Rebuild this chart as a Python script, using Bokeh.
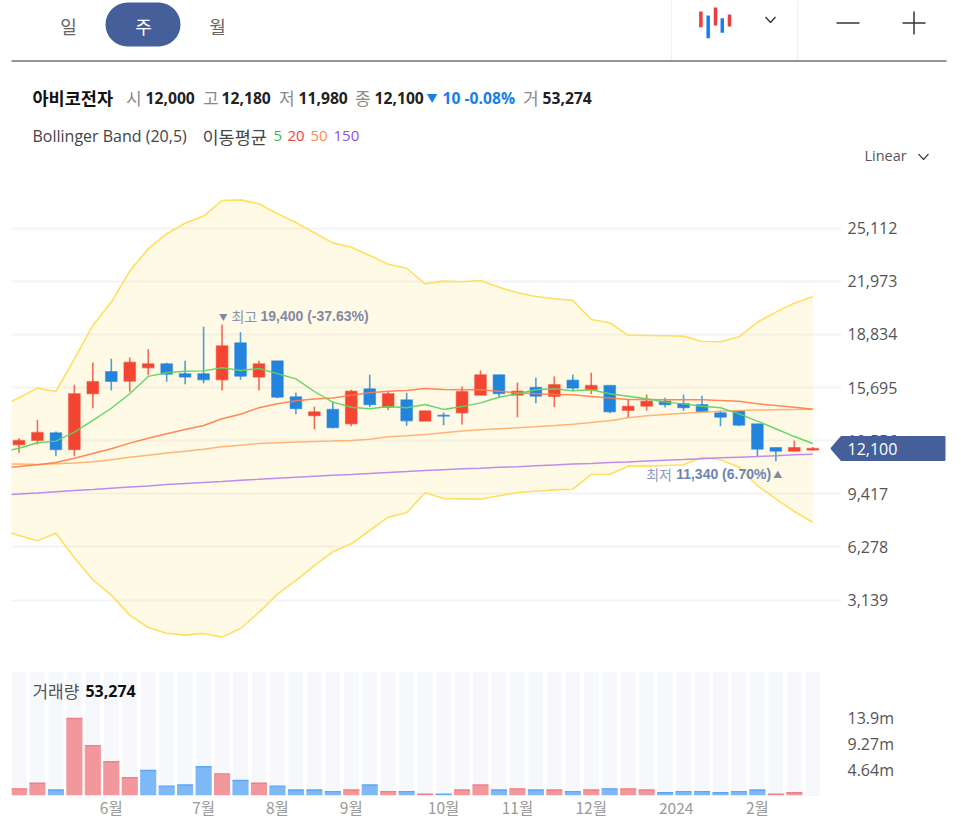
from bokeh.plotting import figure
from bokeh.layouts import column
from bokeh.models import Range1d, FixedTicker, NumeralTickFormatter
from bokeh.core.properties import value
from bokeh.embed import file_html
from bokeh.resources import INLINE

KR = "Noto Sans CJK KR"
LAT = "Open Sans"
ARIAL = "Liberation Sans"

opens = [12310,12570,13020,12020,15330,16640,16070,16860,17100,16510,16510,16150,18340,16310,17270,15150,14030,14410,13550,15620,14530,14970,13710,14060,14200,15240,16450,15240,15710,15170,16130,15560,15820,14340,14590,14890,14750,14690,14200,14320,13550,12150,11930,12000]
highs = [12700,13790,13100,15860,17170,17390,17470,17960,17160,17270,19280,19400,18960,17270,17270,15380,14560,14890,15560,16450,15480,15380,14320,14220,15760,16700,16460,15990,16270,16350,16460,16570,15820,14980,15280,15090,15270,15210,14340,14320,13550,12150,12570,12180]
lows = [11840,12330,11640,11640,14470,15520,15440,16420,16030,15890,15950,15520,16150,15520,15060,14120,13230,13290,13410,14530,14360,13430,13710,13470,13510,15240,15110,13940,14770,14530,15480,15300,14180,13910,14320,14520,14320,14240,13410,13410,11620,11340,11930,11980]
closes = [12570,13040,12020,15330,16050,16050,17190,17100,16480,16310,16150,18160,16360,17100,15120,14440,14260,13320,15480,14680,15330,13730,14320,14000,15460,16450,15330,15480,15180,15870,15660,15820,14260,14590,14890,14680,14500,14260,13940,13470,12050,11930,12150,12100]

# Indicator series start one week before the first visible candle
boll_upper = [14550,15090,15660,15460,17390,19360,20740,22570,23890,24780,25400,25820,26740,26780,26550,25960,25440,24840,24240,23980,23490,22980,22740,21820,21980,21940,22020,21620,21290,21070,20940,20840,19710,19520,18790,18770,18750,18730,18410,18400,18690,19550,20150,20680,21070]
boll_lower = [7310,6950,6640,7090,5640,4340,3430,2250,1520,1180,1070,1170,950,1460,2410,3490,4300,5180,5990,6460,7250,8040,8300,9480,9140,9120,9100,9300,9490,9570,9650,9690,10560,10560,11050,11050,11090,11130,11580,11430,10990,9890,9120,8370,7740]
ma5 = [11860,12110,12430,12530,13060,13750,14470,15330,16350,16570,16660,16680,16860,16700,16820,16520,16210,15460,14830,14530,14440,14570,14500,14690,14400,14570,14790,15120,15330,15560,15620,15500,15560,15330,15180,15030,14830,14730,14590,14500,14140,13710,13260,12800,12390]
ma20 = [10940,11030,11130,11270,11520,11800,12080,12410,12700,12960,13220,13450,13850,14120,14500,14730,14910,15020,15070,15240,15380,15480,15520,15640,15580,15560,15560,15480,15380,15330,15280,15270,15170,15070,14990,14990,14970,14970,14970,14930,14890,14730,14630,14530,14410]
ma50 = [11180,11170,11150,11190,11230,11310,11430,11580,11700,11820,11930,12050,12190,12290,12390,12430,12470,12510,12530,12570,12640,12790,12840,12920,13020,13120,13200,13260,13320,13380,13450,13530,13630,13730,13910,14030,14100,14180,14240,14300,14340,14360,14380,14400,14410]
ma150 = [9340,9410,9460,9540,9610,9670,9750,9820,9880,9960,10030,10090,10140,10220,10270,10330,10390,10450,10510,10560,10620,10680,10730,10790,10840,10890,10930,10980,11020,11070,11120,11170,11210,11260,11300,11350,11400,11440,11490,11540,11580,11620,11670,11720,11760]

volumes = [1.2,2.2,1.0,13.9,9.0,6.1,3.2,4.5,1.7,1.9,5.2,3.9,2.7,2.2,1.7,1.0,1.0,0.7,1.0,1.9,0.7,0.7,0.25,0.25,1.0,1.9,1.0,1.2,1.0,1.0,0.7,1.0,1.2,1.2,1.0,0.5,0.7,0.7,0.5,0.7,1.0,0.25,0.5,0.053]
vol_dirs = ["r","r","b","r","r","r","r","b","b","b","b","r","b","r","b","b","b","b","r","b","r","b","r","b","r","r","b","r","b","r","b","r","b","r","r","b","b","b","b","b","b","r","r","r"]

price_ticks = [3139,6278,9417,12556,15695,18834,21973,25112]
vol_ticks = [4.64,9.27,13.9]
vol_labels = {4.64:"4.64m",9.27:"9.27m",13.9:"13.9m"}
month_ticks = [5,10,14,18,23,27,31,35.6,40]
month_labels = ["6월","7월","8월","9월","10월","11월","12월","2024","2월"]

RED, BLUE = "#f44532", "#2284dc"
W, H_HEAD = 950, 190
x_lo, x_hi = -0.406, 44.556
frame_w = 830
xs = list(range(44))
xs_ind = list(range(-1, 44))


def txt(fig, x, y, s, size, color, bold=False, font=KR, align="left"):
    fig.text(x=[x], y=[y], text=[s], text_font=value(font), text_font_size=f"{size}px",
             text_color=color, text_font_style="bold" if bold else "normal",
             text_baseline="middle", text_align=align)


# ---------- header ----------
head = figure(width=W, height=H_HEAD, x_range=Range1d(0, W), y_range=Range1d(H_HEAD, 0),
              output_backend="svg", toolbar_location=None, min_border=0, outline_line_color=None,
              styles={"position": "absolute", "left": "0px", "top": "0px"})
head.axis.visible = False
head.grid.visible = False
head.quad(left=[105], right=[180], top=[2], bottom=[46], fill_color="#455f9b", line_color=None, border_radius=22)
txt(head, 68, 25, "일", 18, "#666666", align="center")
txt(head, 143, 25, "주", 18, "#ffffff", align="center")
txt(head, 217, 25, "월", 18, "#666666", align="center")
for xv in (671, 797):
    head.line([xv, xv], [0, 60], line_color="#eff0f2", line_width=1)
for xv, y0, y1, c in [(700.4,11,26.7,"#ee3b3f"),(707.7,15,37.7,"#1a7ee8"),(715,7,25,"#ee3b3f"),(721.8,17.7,32.3,"#1a7ee8"),(729,14,26,"#ee3b3f")]:
    head.line([xv, xv], [y0, y1], line_color=c, line_width=3.5)
head.line([765, 770, 775], [16.5, 22, 16.5], line_color="#333333", line_width=1.3)
head.line([836, 859], [22.5, 22.5], line_color="#333333", line_width=1.5)
head.line([902, 925], [22.5, 22.5], line_color="#333333", line_width=1.5)
head.line([913.5, 913.5], [11, 34], line_color="#333333", line_width=1.5)
head.line([11, 946], [60.5, 60.5], line_color="#6b7580", line_width=1.3)
txt(head, 32, 97, "아비코전자", 17.5, "#111111", bold=True)
for x, s in [(125.5,"시"),(202.5,"고"),(278.5,"저"),(354.5,"종"),(522.5,"거")]:
    txt(head, x, 97, s, 17, "#8a8a8a")
for x, s in [(145,"12,000"),(221,"12,180"),(298,"11,980"),(374,"12,100"),(542,"53,274")]:
    txt(head, x, 97.5, s, 15.7, "#222222", bold=True, font=LAT)
txt(head, 426, 97, "▼", 11, "#1a7ee8")
txt(head, 442, 97.5, "10 -0.08%", 15.7, "#1a7ee8", bold=True, font=LAT)
txt(head, 32, 135.5, "Bollinger Band (20,5)", 16, "#444444", font=LAT)
txt(head, 202, 135.5, "이동평균", 17.5, "#444444")
for x, s, c in [(273,"5","#3cb54a"),(287,"20","#f4403c"),(310,"50","#ff8c42"),(333,"150","#8a4ff0")]:
    txt(head, x, 135.5, s, 15, c, font=LAT)
txt(head, 864, 155, "Linear", 14.5, "#555555", font=LAT)
head.line([918, 923, 928], [153.5, 159, 153.5], line_color="#444444", line_width=1.2)

# ---------- price ----------
price = figure(frame_width=frame_w, frame_height=470,
               x_range=Range1d(x_lo, x_hi), y_range=Range1d(-430, 27333),
               output_backend="svg", toolbar_location=None, min_border=0,
               min_border_left=11, min_border_right=W-11-frame_w, outline_line_color=None,
               y_axis_location="right", background_fill_color="#ffffff")
price.xaxis.visible = False
price.xgrid.visible = False
price.ygrid.grid_line_color = "#f3f4f8"
price.ygrid.grid_line_width = 2
price.ygrid.ticker = FixedTicker(ticks=price_ticks)
ya = price.yaxis[0]
ya.ticker = FixedTicker(ticks=price_ticks)
ya.axis_line_color = None
ya.major_tick_line_color = None
ya.minor_tick_line_color = None
ya.major_tick_out = 0
ya.major_label_standoff = 6
ya.major_label_text_font = LAT
ya.major_label_text_font_size = "16px"
ya.major_label_text_color = "#555555"
ya.formatter = NumeralTickFormatter(format="0,0")

price.varea(x=xs_ind, y1=boll_lower, y2=boll_upper, fill_color="#ffde59", fill_alpha=0.15)
price.line(xs_ind, boll_upper, line_color="#ffdf60", line_width=1.6)
price.line(xs_ind, boll_lower, line_color="#ffdf60", line_width=1.6)

cols = [RED if c >= o else BLUE for o, c in zip(opens, closes)]
price.segment(x0=xs, y0=lows, x1=xs, y1=highs, line_color=cols, line_width=1.6, line_alpha=0.8)
price.vbar(x=xs, top=[max(o, c) for o, c in zip(opens, closes)], bottom=[min(o, c) for o, c in zip(opens, closes)],
           width=0.63, fill_color=cols, line_color=cols, line_alpha=0.5, line_width=1.2)

price.line(xs_ind, ma150, line_color="#b77ff0", line_width=1.5, line_alpha=0.9)
price.line(xs_ind, ma50, line_color="#ffad6a", line_width=1.5, line_alpha=0.9)
price.line(xs_ind, ma20, line_color="#ff7b45", line_width=1.5, line_alpha=0.9)
price.line(xs_ind, ma5, line_color="#5fd35f", line_width=1.4, line_alpha=0.95)

hi_i = highs.index(max(highs))
lo_i = lows.index(min(lows))
hi_y = highs[hi_i] + 500
lo_y = lows[lo_i] - 780
px = 18.46
GH, GL = "#8089a6", "#6f84b6"
txt(price, hi_i - 3/px, hi_y, "▼", 8.5, GH)
txt(price, hi_i + 9.4/px, hi_y, "최고", 14, "#8a92aa")
txt(price, hi_i + 38.4/px, hi_y, "19,400 (-37.63%)", 14, GH, bold=True, font=ARIAL)
txt(price, lo_i - 129.7/px, lo_y, "최저", 14, "#8a99bc")
txt(price, lo_i - 99.7/px, lo_y, "11,340 (6.70%)", 14, GL, bold=True, font=ARIAL)
txt(price, lo_i - 2.7/px, lo_y, "▲", 9, "#8089a6")

# ---------- volume ----------
vh = 5.54
vol = figure(frame_width=frame_w, frame_height=124,
             x_range=Range1d(x_lo, x_hi), y_range=Range1d(0, 124/vh),
             output_backend="svg", toolbar_location=None, min_border=0,
             min_border_left=11, min_border_right=W-11-frame_w, min_border_top=11, min_border_bottom=30,
             outline_line_color=None, y_axis_location="right")
vol.grid.visible = False
vol.vbar(x=xs, top=[124/vh]*44, width=0.795, fill_color="#f7f8fc", line_color=None)
vc = {"r": "#f2989c", "b": "#7eb8f7"}
ve = {"r": "#ee7f86", "b": "#5ea6f2"}
vol.vbar(x=xs, top=volumes, width=0.875, fill_color=[vc[d] for d in vol_dirs], line_color=None)
vol.segment(x0=[i-0.43 for i in xs], x1=[i+0.43 for i in xs], y0=volumes, y1=volumes,
            line_color=[ve[d] for d in vol_dirs], line_width=1.4,
            line_alpha=[0 if v < 0.1 else 1 for v in volumes])
txt(vol, 0.73, 18.95, "거래량", 17, "#555555")
txt(vol, 3.6, 18.95, "53,274", 16, "#111111", bold=True, font=LAT)
ry = vol.yaxis[0]
ry.ticker = FixedTicker(ticks=vol_ticks)
ry.major_label_overrides = vol_labels
ry.axis_line_color = None
ry.major_tick_line_color = None
ry.minor_tick_line_color = None
ry.major_tick_out = 0
ry.major_label_standoff = 6
ry.major_label_text_font = LAT
ry.major_label_text_font_size = "16px"
ry.major_label_text_color = "#555555"
bx = vol.xaxis[0]
bx.ticker = FixedTicker(ticks=month_ticks)
bx.major_label_overrides = dict(zip(month_ticks, month_labels))
bx.axis_line_color = None
bx.major_tick_line_color = None
bx.minor_tick_line_color = None
bx.major_tick_out = 0
bx.major_label_standoff = 0
bx.major_label_text_font = KR
bx.major_label_text_font_size = "15.5px"
bx.major_label_text_color = "#999999"

body = column(price, vol, spacing=0, styles={"position": "absolute", "left": "0px", "top": "190px"})

# ---------- current price tag, laid over the axis ----------
last = closes[-1]
u = 59.07
tag_h = 28
tag = figure(width=118, height=tag_h, x_range=Range1d(0, 118),
             y_range=Range1d(last - tag_h/2*u, last + tag_h/2*u),
             output_backend="svg", toolbar_location=None, min_border=0, outline_line_color=None,
             background_fill_color=None, border_fill_color=None,
             styles={"position": "absolute", "left": "830px", "top": "433.5px", "z-index": "5"})
tag.axis.visible = False
tag.grid.visible = False
tag.patch(x=[1, 11, 114, 114, 11], y=[last, last + 11.5*u, last + 11.5*u, last - 11.5*u, last - 11.5*u],
          fill_color="#455f9b", line_color="#455f9b", line_width=2, line_join="round")
txt(tag, 17, last, f"{last:,}", 16, "#ffffff", font=LAT)

open("out.html", "w").write(file_html([head, body, tag], INLINE))
